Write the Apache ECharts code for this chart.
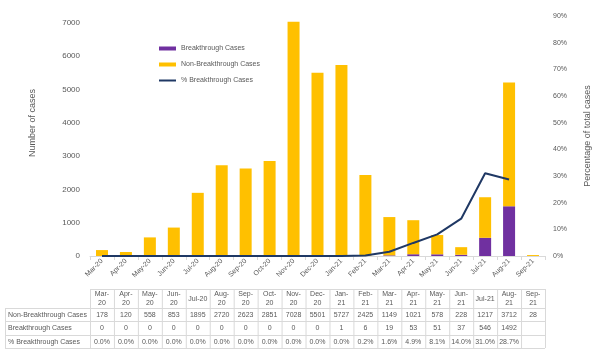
<!DOCTYPE html>
<html>
<head>
<meta charset="utf-8">
<script src="https://cdn.jsdelivr.net/npm/echarts@6/dist/echarts.min.js"></script>
<style>
  html, body { margin: 0; padding: 0; background: #fff; }
  #chart { width: 600px; height: 350px; }
</style>
</head>
<body>
<div id="chart"></div>
<script>
  var months = ['Mar-20', 'Apr-20', 'May-20', 'Jun-20', 'Jul-20', 'Aug-20', 'Sep-20', 'Oct-20', 'Nov-20', 'Dec-20',
    'Jan-21', 'Feb-21', 'Mar-21', 'Apr-21', 'May-21', 'Jun-21', 'Jul-21', 'Aug-21', 'Sep-21']
  var tableHeads = ['Mar-\n20', 'Apr-\n20', 'May-\n20', 'Jun-\n20', 'Jul-20', 'Aug-\n20', 'Sep-\n20', 'Oct-\n20', 'Nov-\n20', 'Dec-\n20',
    'Jan-\n21', 'Feb-\n21', 'Mar-\n21', 'Apr-\n21', 'May-\n21', 'Jun-\n21', 'Jul-21', 'Aug-\n21', 'Sep-\n21']
  var nonBreakthrough = [178, 120, 558, 853, 1895, 2720, 2623, 2851, 7028, 5501, 5727, 2425, 1149, 1021, 578, 228, 1217, 3712, 28]
  var breakthrough = [0, 0, 0, 0, 0, 0, 0, 0, 0, 0, 1, 6, 19, 53, 51, 37, 546, 1492, null]
  var pctBreakthrough = [0, 0, 0, 0, 0, 0, 0, 0, 0, 0, 0, 0.2, 1.6, 4.9, 8.1, 14.0, 31.0, 28.7, null]
  var rowNames = ['Non-Breakthrough Cases', 'Breakthrough Cases', '% Breakthrough Cases']

  var font = 'Liberation Sans, Arial, sans-serif'
  var grey = '#595959'
  var lineGrey = '#d9d9d9'

  var myChart = echarts.init(document.getElementById('chart'))

  var option = {
    animation: false,
    textStyle: { fontFamily: font },
    grid: { left: 90, right: 52, top: 16, bottom: 94, containLabel: false },
    legend: {
      orient: 'vertical',
      left: 153,
      top: 40,
      itemWidth: 17,
      itemHeight: 4,
      itemGap: 9,
      textStyle: { fontSize: 7, color: grey, fontFamily: font },
      data: [
        { name: 'Breakthrough Cases', icon: 'rect' },
        { name: 'Non-Breakthrough Cases', icon: 'rect' },
        { name: '% Breakthrough Cases', itemStyle: { opacity: 0 } }
      ]
    },
    xAxis: {
      type: 'category',
      data: months,
      axisLine: { lineStyle: { color: lineGrey, width: 1 } },
      axisTick: { show: true, lineStyle: { color: lineGrey }, length: 4 },
      axisLabel: { rotate: 45, fontSize: 7, color: grey, margin: 4, interval: 0 }
    },
    yAxis: [{
      type: 'value',
      min: 0,
      max: 7200,
      interval: 1000,
      name: 'Number of cases',
      nameLocation: 'middle',
      nameGap: 53,
      nameTextStyle: { fontSize: 9, color: grey, padding: [0, 0, 0, 26] },
      splitLine: { show: false },
      axisLine: { show: false },
      axisTick: { show: false },
      axisLabel: { fontSize: 8, color: grey, margin: 10, showMaxLabel: false, formatter: function (v) { return String(v) } }
    }, {
      type: 'value',
      min: 0,
      max: 90,
      interval: 10,
      name: 'Percentage of total cases',
      nameLocation: 'middle',
      nameGap: 38,
      nameRotate: 90,
      nameTextStyle: { fontSize: 9, color: grey },
      splitLine: { show: false },
      axisLine: { show: false },
      axisTick: { show: false },
      axisLabel: { fontSize: 7, color: grey, margin: 8, formatter: '{value}%' }
    }],
    series: [{
      name: 'Breakthrough Cases',
      type: 'bar',
      stack: 'cases',
      barWidth: 12,
      data: breakthrough,
      itemStyle: { color: '#7030a0' }
    }, {
      name: 'Non-Breakthrough Cases',
      type: 'bar',
      stack: 'cases',
      barWidth: 12,
      data: nonBreakthrough,
      itemStyle: { color: '#ffc000' }
    }, {
      name: '% Breakthrough Cases',
      type: 'line',
      yAxisIndex: 1,
      data: pctBreakthrough,
      symbol: 'none',
      lineStyle: { color: '#1f3864', width: 2 },
      itemStyle: { color: '#1f3864' }
    }]
  }
  myChart.setOption(option)

  // data table under the chart, columns follow the category axis
  var x0 = myChart.convertToPixel({ xAxisIndex: 0 }, months[0])
  var x1 = myChart.convertToPixel({ xAxisIndex: 0 }, months[1])
  var colW = x1 - x0
  var left = x0 - colW / 2
  var right = left + colW * months.length
  var rowTops = [289, 308, 321, 335, 348]
  var headLeft = 5
  var g = []

  function hline (xa, xb, y) {
    g.push({ type: 'line', shape: { x1: xa, y1: y + 0.5, x2: xb, y2: y + 0.5 }, style: { stroke: lineGrey, lineWidth: 1 } })
  }
  function vline (x, ya, yb) {
    g.push({ type: 'line', shape: { x1: x + 0.5, y1: ya, x2: x + 0.5, y2: yb }, style: { stroke: lineGrey, lineWidth: 1 } })
  }
  function txt (s, x, y, align) {
    g.push({ type: 'text', x: x, y: y, style: { text: s, fill: grey, fontSize: 7, fontFamily: font, align: align, verticalAlign: 'middle', lineHeight: 9 } })
  }

  hline(left, right, rowTops[0])
  for (var r = 1; r < rowTops.length; r++) hline(headLeft, right, rowTops[r])
  vline(headLeft, rowTops[1], rowTops[4])
  for (var c = 0; c <= months.length; c++) vline(left + c * colW, rowTops[0], rowTops[4])

  for (var i = 0; i < months.length; i++) {
    var cx = left + (i + 0.5) * colW
    txt(tableHeads[i], cx, (rowTops[0] + rowTops[1]) / 2 + 0.5, 'center')
    txt(String(nonBreakthrough[i]), cx, (rowTops[1] + rowTops[2]) / 2 + 0.5, 'center')
    txt(breakthrough[i] == null ? '' : String(breakthrough[i]), cx, (rowTops[2] + rowTops[3]) / 2 + 0.5, 'center')
    txt(pctBreakthrough[i] == null ? '' : pctBreakthrough[i].toFixed(1) + '%', cx, (rowTops[3] + rowTops[4]) / 2 + 0.5, 'center')
  }
  for (var k = 0; k < rowNames.length; k++) {
    txt(rowNames[k], headLeft + 3, (rowTops[k + 1] + rowTops[k + 2]) / 2 + 0.5, 'left')
  }

  myChart.setOption({ graphic: g })
</script>
</body>
</html>
